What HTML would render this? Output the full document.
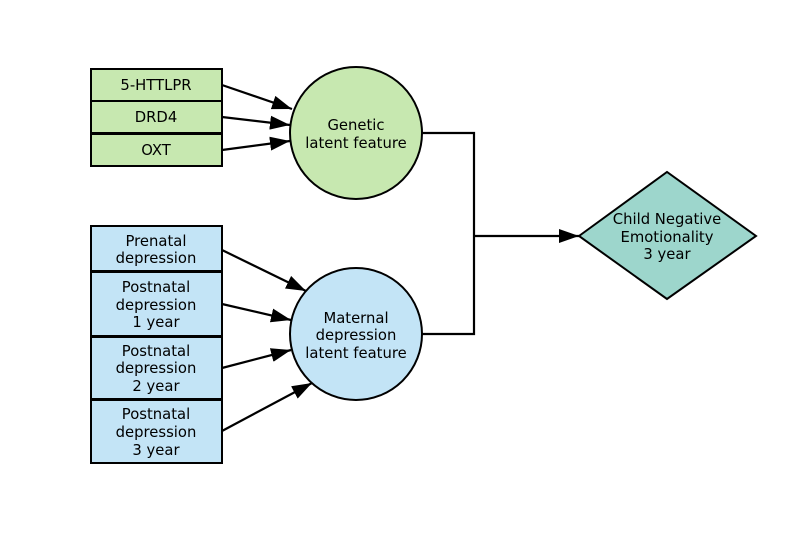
<!DOCTYPE html>
<html><head><style>
html,body{margin:0;padding:0;background:#fff;}
svg text{font-family:"DejaVu Sans","Liberation Sans",sans-serif;font-size:14.8px;fill:#000;}
</style></head><body>
<svg width="791" height="531" viewBox="0 0 791 531" xmlns="http://www.w3.org/2000/svg">
<defs>
<marker id="b" markerWidth="20" markerHeight="14" refX="20" refY="7" orient="auto" markerUnits="userSpaceOnUse" viewBox="0 0 20 14">
<path d="M0,0 L20,7 L0,14 Z" fill="#000"/></marker>
</defs>
<g stroke="#000" stroke-width="2" fill="#c7e8b0">
<rect x="91" y="69" width="131" height="32"/>
<rect x="91" y="101" width="131" height="32"/>
<rect x="91" y="134" width="131" height="32"/>
<circle cx="356" cy="133" r="66"/>
</g>
<g stroke="#000" stroke-width="2" fill="#c3e4f6">
<rect x="91" y="226" width="131" height="45"/>
<rect x="91" y="272" width="131" height="64"/>
<rect x="91" y="337" width="131" height="62"/>
<rect x="91" y="400" width="131" height="63"/>
<circle cx="356" cy="334" r="66"/>
</g>
<polygon points="579,236 667,172 756,236 667,299" fill="#9dd6cc" stroke="#000" stroke-width="2"/>
<g stroke="#000" stroke-width="2.2" fill="none">
<polyline points="422,133 474,133 474,334 422,334"/>
<line x1="474" y1="236" x2="579" y2="236" marker-end="url(#b)"/>
<line x1="222" y1="85" x2="292" y2="109" marker-end="url(#b)"/>
<line x1="222" y1="117" x2="290" y2="125" marker-end="url(#b)"/>
<line x1="222" y1="150" x2="290" y2="141" marker-end="url(#b)"/>
<line x1="222" y1="250" x2="306" y2="291" marker-end="url(#b)"/>
<line x1="222" y1="304" x2="291" y2="320" marker-end="url(#b)"/>
<line x1="222" y1="368" x2="291" y2="350" marker-end="url(#b)"/>
<line x1="222" y1="431" x2="312" y2="383" marker-end="url(#b)"/>
</g>
<g text-anchor="middle">
<text x="156" y="90">5-HTTLPR</text>
<text x="156" y="122">DRD4</text>
<text x="156" y="155">OXT</text>
<text x="356" y="130">Genetic</text>
<text x="356" y="148">latent feature</text>
<text x="156" y="246">Prenatal</text>
<text x="156" y="263">depression</text>
<text x="156" y="292">Postnatal</text>
<text x="156" y="310">depression</text>
<text x="156" y="327">1 year</text>
<text x="156" y="356">Postnatal</text>
<text x="156" y="373">depression</text>
<text x="156" y="391">2 year</text>
<text x="156" y="419">Postnatal</text>
<text x="156" y="437">depression</text>
<text x="156" y="455">3 year</text>
<text x="356" y="323">Maternal</text>
<text x="356" y="340">depression</text>
<text x="356" y="358">latent feature</text>
<text x="667" y="224">Child Negative</text>
<text x="667" y="242">Emotionality</text>
<text x="667" y="259">3 year</text>
</g>
</svg>
</body></html>
